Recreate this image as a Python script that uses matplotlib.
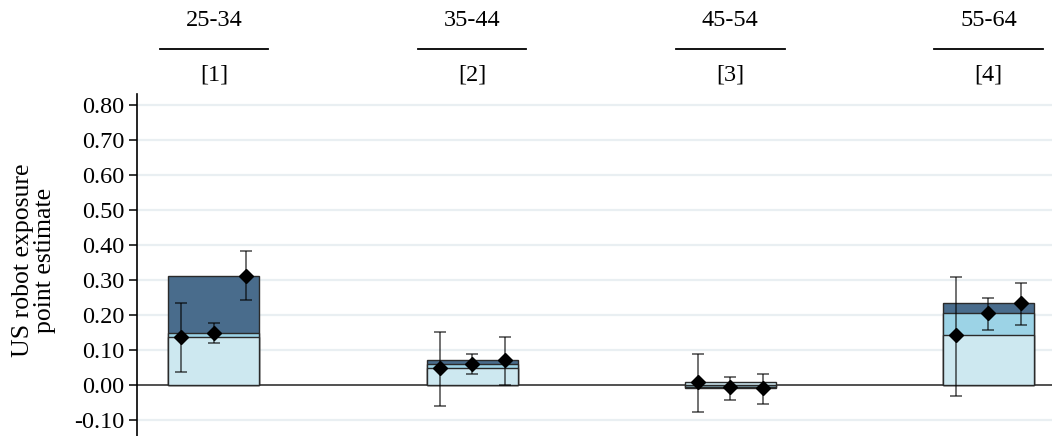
import matplotlib
matplotlib.use("Agg")
import matplotlib.pyplot as plt
import matplotlib.transforms as mtransforms

plt.rcParams["font.family"] = ["Liberation Serif", "DejaVu Serif"]

# ---- data ----
age_groups = ["25-34", "35-44", "45-54", "55-64"]
col_labels = ["[1]", "[2]", "[3]", "[4]"]
# three estimates per age group (specifications 1..3)
est_a = [0.137, 0.048, 0.009, 0.141]
est_b = [0.149, 0.060, -0.005, 0.205]
est_c = [0.312, 0.072, -0.009, 0.234]
lo_a = [0.036, -0.060, -0.078, -0.031]
hi_a = [0.234, 0.150, 0.087, 0.309]
lo_b = [0.119, 0.030, -0.043, 0.157]
hi_b = [0.176, 0.088, 0.023, 0.249]
lo_c = [0.241, 0.000, -0.054, 0.171]
hi_c = [0.381, 0.137, 0.031, 0.291]
yticks = [-0.10, 0.00, 0.10, 0.20, 0.30, 0.40, 0.50, 0.60, 0.70, 0.80]

DARK = "#496c8c"
MID = "#9cd3e6"
LIGHT = "#cde8f0"
EDGE = "#2a2a2a"

fig = plt.figure(figsize=(10.56, 4.36), dpi=100)
ax = fig.add_axes([137 / 1056, 0.0, (1052 - 137) / 1056, (436 - 94) / 436])

x = list(range(len(age_groups)))
bw = 0.352
off = 0.126

for yv in yticks:
    if yv != 0:
        ax.axhline(yv, color="#e9eff2", lw=1.6, zorder=0)
ax.axhline(0, color="#333333", lw=1.2, zorder=1)

# overlapping bars, tallest drawn first
ax.bar(x, est_c, width=bw, color=DARK, edgecolor=EDGE, lw=1.0, zorder=2)
ax.bar(x, est_b, width=bw, color=MID, edgecolor=EDGE, lw=1.0, zorder=2)
ax.bar(x, est_a, width=bw, color=LIGHT, edgecolor=EDGE, lw=1.0, zorder=2)

series = [(est_a, lo_a, hi_a, -off), (est_b, lo_b, hi_b, 0.0), (est_c, lo_c, hi_c, off)]
for est, lo, hi, dx in series:
    xs = [xi + dx for xi in x]
    yerr = [[e - l for e, l in zip(est, lo)], [h - e for e, h in zip(est, hi)]]
    ax.errorbar(xs, est, yerr=yerr, fmt="none", ecolor="black", alpha=0.6,
                elinewidth=1.3, capsize=4.5, capthick=1.3, zorder=3)
    ax.plot(xs, est, "D", color="black", ms=7.5, zorder=4)

ax.set_xlim(-0.298, 3.246)
ax.set_ylim(-0.146, 0.83)
ax.set_yticks(yticks)
ax.set_yticklabels([f"{v:.2f}" for v in yticks], fontsize=17.5)
ax.set_xticks([])
ax.tick_params(axis="y", length=6, width=1.1, direction="out", pad=3)
for s in ("top", "right", "bottom"):
    ax.spines[s].set_visible(False)
ax.spines["left"].set_linewidth(1.2)

fig.text(34 / 1056, 1 - 260 / 436, "US robot exposure\npoint estimate", rotation=90,
         ha="center", va="center", fontsize=18.5, linespacing=0.95)

# column headers above the plot
blend = mtransforms.blended_transform_factory(ax.transData, fig.transFigure)
for xi, g, c in zip(x, age_groups, col_labels):
    ax.text(xi, 1 - 21 / 436, g, transform=blend, ha="center", va="center", fontsize=17.5)
    ax.plot([xi - 0.21, xi + 0.21], [1 - 49 / 436] * 2, transform=blend, color="black",
            lw=1.3, clip_on=False)
    ax.text(xi, 1 - 75 / 436, c, transform=blend, ha="center", va="center", fontsize=17.5)

fig.savefig("out.png", dpi=100, facecolor="white")
